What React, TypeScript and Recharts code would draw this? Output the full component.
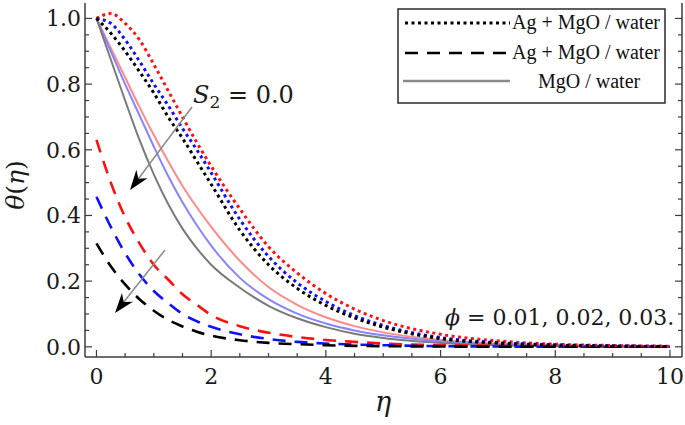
import React from "react";
import { LineChart, Line, XAxis, YAxis } from "recharts";

// eta grid and profiles
const eta = [0, 0.25, 0.5, 0.75, 1, 1.25, 1.5, 1.75, 2, 2.5, 3, 3.5, 4, 4.5, 5, 6, 7, 8, 9, 10];

// Ag + MgO / water (dotted)
const dotRed = [1.0, 1.015, 0.985, 0.935, 0.86, 0.78, 0.7, 0.622, 0.55, 0.42, 0.305, 0.225, 0.162, 0.115, 0.08, 0.038, 0.018, 0.008, 0.004, 0.002];
const dotBlue = [1.0, 0.985, 0.935, 0.87, 0.8, 0.735, 0.665, 0.6, 0.53, 0.388, 0.275, 0.195, 0.138, 0.095, 0.065, 0.028, 0.013, 0.006, 0.003, 0.001];
const dotBlack = [1.0, 0.955, 0.9, 0.838, 0.773, 0.7, 0.635, 0.565, 0.495, 0.355, 0.25, 0.178, 0.126, 0.088, 0.06, 0.025, 0.011, 0.005, 0.002, 0.001];

// Ag + MgO / water (dashed)
const dashRed = [0.63, 0.5, 0.395, 0.315, 0.25, 0.205, 0.16, 0.128, 0.097, 0.063, 0.043, 0.03, 0.021, 0.015, 0.01, 0.005, 0.003, 0.001, 0, 0];
const dashBlue = [0.457, 0.365, 0.285, 0.22, 0.17, 0.133, 0.1, 0.078, 0.061, 0.038, 0.024, 0.015, 0.01, 0.007, 0.005, 0.002, 0.001, 0, 0, 0];
const dashBlack = [0.315, 0.245, 0.19, 0.145, 0.11, 0.082, 0.062, 0.046, 0.034, 0.02, 0.012, 0.008, 0.005, 0.003, 0.002, 0.001, 0, 0, 0, 0];

// MgO / water (solid)
const solRed = [1.0, 0.91, 0.82, 0.73, 0.645, 0.565, 0.49, 0.425, 0.365, 0.262, 0.182, 0.128, 0.09, 0.063, 0.044, 0.021, 0.01, 0.005, 0.002, 0.001];
const solBlue = [1.0, 0.9, 0.8, 0.705, 0.61, 0.52, 0.44, 0.37, 0.308, 0.21, 0.145, 0.101, 0.071, 0.05, 0.035, 0.017, 0.008, 0.004, 0.002, 0.001];
const solGray = [1.0, 0.875, 0.75, 0.63, 0.525, 0.435, 0.36, 0.3, 0.25, 0.18, 0.125, 0.087, 0.06, 0.04, 0.027, 0.012, 0.005, 0.002, 0.001, 0];

const xTicks = [0, 0.5, 1, 1.5, 2, 2.5, 3, 3.5, 4, 4.5, 5, 5.5, 6, 6.5, 7, 7.5, 8, 8.5, 9, 9.5, 10];
const xLabels = [0, 2, 4, 6, 8, 10];
const yTicks = [0, 0.05, 0.1, 0.15, 0.2, 0.25, 0.3, 0.35, 0.4, 0.45, 0.5, 0.55, 0.6, 0.65, 0.7, 0.75, 0.8, 0.85, 0.9, 0.95, 1.0];
const yLabels = [0, 0.2, 0.4, 0.6, 0.8, 1.0];

const data = eta.map((e, i) => ({
  eta: e,
  dotRed: dotRed[i],
  dotBlue: dotBlue[i],
  dotBlack: dotBlack[i],
  dashRed: dashRed[i],
  dashBlue: dashBlue[i],
  dashBlack: dashBlack[i],
  solRed: solRed[i],
  solBlue: solBlue[i],
  solGray: solGray[i],
}));

const DOT = "3 3.5";
const DASH = "13 9";

const series = [
  { key: "solRed", color: "#ff8a8a", dash: undefined, width: 2 },
  { key: "solBlue", color: "#8585ff", dash: undefined, width: 2 },
  { key: "solGray", color: "#7a7a7a", dash: undefined, width: 2 },
  { key: "dashRed", color: "#ff1010", dash: DASH, width: 2.6 },
  { key: "dashBlue", color: "#1010ff", dash: DASH, width: 2.6 },
  { key: "dashBlack", color: "#000000", dash: DASH, width: 2.6 },
  { key: "dotRed", color: "#ff1010", dash: DOT, width: 3 },
  { key: "dotBlue", color: "#1010ff", dash: DOT, width: 3 },
  { key: "dotBlack", color: "#000000", dash: DOT, width: 3 },
];

const frame = "#3c3c3c";
const mathFont = "'DejaVu Serif', serif";
const textFont = "'Liberation Serif', 'Times New Roman', serif";

const near = (arr: number[], v: number) => arr.some((a) => Math.abs(a - v) < 1e-6);

function BottomTick(props: any) {
  const { x, y, payload } = props;
  const major = near(xLabels, payload.value);
  return (
    <g>
      <line x1={x} x2={x} y1={y} y2={y - (major ? 7 : 4)} stroke={frame} strokeWidth={1.2} />
      {major && (
        <text x={x} y={y + 27} textAnchor="middle" fontSize={22} fontFamily={mathFont} fill="#1a1a1a">
          {payload.value}
        </text>
      )}
    </g>
  );
}

function TopTick(props: any) {
  const { x, y, payload } = props;
  const major = near(xLabels, payload.value);
  return <line x1={x} x2={x} y1={y} y2={y + (major ? 7 : 4)} stroke={frame} strokeWidth={1.2} />;
}

function LeftTick(props: any) {
  const { x, y, payload } = props;
  const major = near(yLabels, payload.value);
  return (
    <g>
      <line x1={x} x2={x + (major ? 7 : 4)} y1={y} y2={y} stroke={frame} strokeWidth={1.2} />
      {major && (
        <text x={x - 4} y={y + 8} textAnchor="end" fontSize={22} fontFamily={mathFont} fill="#1a1a1a">
          {Number(payload.value).toFixed(1)}
        </text>
      )}
    </g>
  );
}

function RightTick(props: any) {
  const { x, y, payload } = props;
  const major = near(yLabels, payload.value);
  return <line x1={x} x2={x - (major ? 7 : 4)} y1={y} y2={y} stroke={frame} strokeWidth={1.2} />;
}

function Arrow({ x1, y1, x2, y2 }: { x1: number; y1: number; x2: number; y2: number }) {
  const dx = x2 - x1;
  const dy = y2 - y1;
  const len = Math.hypot(dx, dy);
  const ux = dx / len;
  const uy = dy / len;
  const hl = 20;
  const hw = 7;
  const bx = x2 - ux * hl;
  const by = y2 - uy * hl;
  const pts = `${x2},${y2} ${bx - uy * hw},${by + ux * hw} ${x2 - ux * hl * 0.7},${y2 - uy * hl * 0.7} ${bx + uy * hw},${by - ux * hw}`;
  return (
    <g>
      <line x1={x1} y1={y1} x2={x2 - ux * 10} y2={y2 - uy * 10} stroke="#8a8a8a" strokeWidth={1.5} />
      <polygon points={pts} fill="#000" />
    </g>
  );
}

export default function App() {
  return (
    <div style={{ position: "absolute", left: 0, top: 0, width: 685, height: 425, background: "#fff" }}>
      <LineChart width={685} height={425} data={data} margin={{ top: 3, right: 0, left: 0, bottom: 0 }}>
        <XAxis
          dataKey="eta"
          type="number"
          domain={[-0.2, 10.21]}
          allowDataOverflow
          ticks={xTicks}
          interval={0}
          height={68}
          tickSize={0}
          tickMargin={0}
          tickLine={false}
          axisLine={{ stroke: frame, strokeWidth: 1.5 }}
          tick={<BottomTick />}
        />
        <XAxis
          xAxisId="top"
          orientation="top"
          dataKey="eta"
          type="number"
          domain={[-0.2, 10.21]}
          allowDataOverflow
          ticks={xTicks}
          interval={0}
          height={0}
          tickSize={0}
          tickMargin={0}
          tickLine={false}
          axisLine={{ stroke: frame, strokeWidth: 1.5 }}
          tick={<TopTick />}
        />
        <YAxis
          type="number"
          domain={[-0.031, 1.047]}
          allowDataOverflow
          ticks={yTicks}
          interval={0}
          width={85}
          tickSize={0}
          tickMargin={0}
          tickLine={false}
          axisLine={{ stroke: frame, strokeWidth: 1.5 }}
          tick={<LeftTick />}
        />
        <YAxis
          yAxisId="right"
          orientation="right"
          type="number"
          domain={[-0.031, 1.047]}
          allowDataOverflow
          ticks={yTicks}
          interval={0}
          width={3}
          tickSize={0}
          tickMargin={0}
          tickLine={false}
          axisLine={{ stroke: frame, strokeWidth: 1.5 }}
          tick={<RightTick />}
        />
        {series.map((s) => (
          <Line
            key={s.key}
            dataKey={s.key}
            type="monotone"
            stroke={s.color}
            strokeWidth={s.width}
            strokeDasharray={s.dash}
            dot={false}
            activeDot={false}
            isAnimationActive={false}
          />
        ))}
      </LineChart>

      <svg width={685} height={425} style={{ position: "absolute", left: 0, top: 0, pointerEvents: "none" }}>
        {/* axis titles */}
        <text
          transform="translate(24,185) rotate(-90)"
          textAnchor="middle"
          fontSize={25}
          fontFamily={mathFont}
          fill="#1a1a1a"
        >
          <tspan fontStyle="italic">θ</tspan>
          <tspan>(</tspan>
          <tspan fontStyle="italic">η</tspan>
          <tspan>)</tspan>
        </text>
        <text x={383} y={411} textAnchor="middle" fontSize={27} fontStyle="italic" fontFamily={mathFont} fill="#1a1a1a">
          η
        </text>

        {/* annotations */}
        <text x={193} y={103} fontSize={24} fontFamily={mathFont} fill="#1a1a1a">
          <tspan fontStyle="italic">S</tspan>
          <tspan fontSize={17} dy={5}>2</tspan>
          <tspan dy={-5}> = 0.0</tspan>
        </text>
        <Arrow x1={192} y1={107} x2={130} y2={190} />
        <Arrow x1={165} y1={250} x2={115} y2={313} />
        <text x={445} y={325} fontSize={22} fontFamily={mathFont} fill="#1a1a1a">
          <tspan fontStyle="italic">ϕ</tspan>
          <tspan> = 0.01, 0.02, 0.03.</tspan>
        </text>

        {/* legend */}
        <rect x={398} y={9} width={267} height={94} fill="#fff" stroke="#2a2a2a" strokeWidth={1.5} />
        <line x1={405} x2={510} y1={23} y2={23} stroke="#000" strokeWidth={3} strokeDasharray={DOT} />
        <text x={512} y={29} fontSize={20} fontFamily={textFont} fill="#111">Ag + MgO / water</text>
        <line x1={405} x2={510} y1={53} y2={53} stroke="#000" strokeWidth={2.6} strokeDasharray={DASH} />
        <text x={512} y={59} fontSize={20} fontFamily={textFont} fill="#111">Ag + MgO / water</text>
        <line x1={403} x2={510} y1={81} y2={81} stroke="#8a8a8a" strokeWidth={2.5} />
        <text x={538} y={88} fontSize={20} fontFamily={textFont} fill="#111">MgO / water</text>
      </svg>
    </div>
  );
}
